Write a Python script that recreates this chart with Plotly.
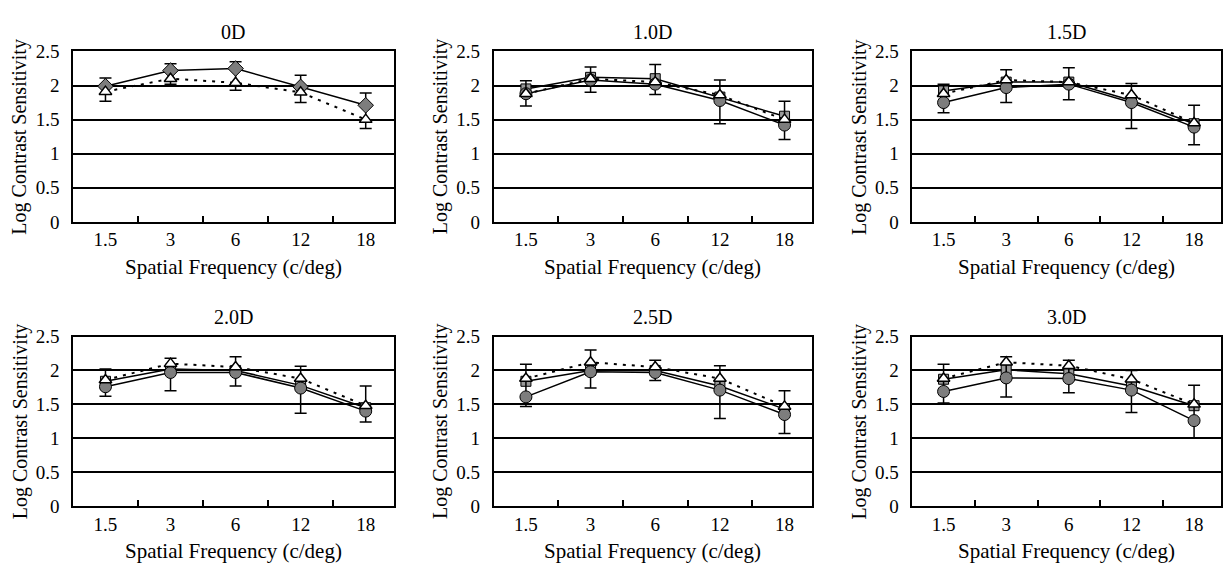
import plotly.graph_objects as go

freq_labels = ["1.5", "3", "6", "12", "18"]
panel_titles = ["0D", "1.0D", "1.5D", "2.0D", "2.5D", "3.0D"]

# filled series (diamond in 0D, circle elsewhere), solid line
filled_0D = [1.99, 2.22, 2.25, 1.98, 1.71]
filled_1_0D = [1.88, 2.08, 2.02, 1.78, 1.42]
filled_1_5D = [1.75, 1.97, 2.02, 1.75, 1.39]
filled_2_0D = [1.76, 1.97, 1.97, 1.74, 1.40]
filled_2_5D = [1.61, 1.98, 1.97, 1.71, 1.35]
filled_3_0D = [1.69, 1.89, 1.88, 1.71, 1.26]

# grey square series, solid line (absent in 0D)
square_1_0D = [1.95, 2.12, 2.10, 1.83, 1.55]
square_1_5D = [1.92, 2.05, 2.05, 1.78, 1.44]
square_2_0D = [1.84, 2.02, 2.00, 1.78, 1.45]
square_2_5D = [1.84, 2.00, 2.00, 1.77, 1.43]
square_3_0D = [1.87, 2.01, 1.95, 1.77, 1.48]

# open triangle series, dotted line
tri_0D = [1.91, 2.10, 2.04, 1.90, 1.50]
tri_1_0D = [1.88, 2.10, 2.05, 1.86, 1.50]
tri_1_5D = [1.88, 2.08, 2.05, 1.86, 1.45]
tri_2_0D = [1.86, 2.10, 2.05, 1.88, 1.48]
tri_2_5D = [1.88, 2.12, 2.05, 1.88, 1.47]
tri_3_0D = [1.88, 2.12, 2.07, 1.87, 1.50]

# error bar caps (top / bottom values)
cap_top_0D = [2.11, 2.32, 2.35, 2.15, 1.89]
cap_bot_0D = [1.77, 2.02, 1.93, 1.75, 1.37]
cap_top_1_0D = [2.07, 2.27, 2.31, 2.08, 1.77]
cap_bot_1_0D = [1.70, 1.90, 1.87, 1.44, 1.21]
cap_top_1_5D = [2.02, 2.23, 2.26, 2.03, 1.71]
cap_bot_1_5D = [1.60, 1.75, 1.79, 1.37, 1.13]
cap_top_2_0D = [2.02, 2.18, 2.20, 2.06, 1.77]
cap_bot_2_0D = [1.62, 1.70, 1.77, 1.37, 1.24]
cap_top_2_5D = [2.09, 2.30, 2.15, 2.07, 1.70]
cap_bot_2_5D = [1.47, 1.74, 1.85, 1.29, 1.07]
cap_top_3_0D = [2.09, 2.20, 2.15, 2.00, 1.78]
cap_bot_3_0D = [1.52, 1.61, 1.67, 1.38, 1.00]

filled_all = [filled_0D, filled_1_0D, filled_1_5D, filled_2_0D, filled_2_5D, filled_3_0D]
square_all = [None, square_1_0D, square_1_5D, square_2_0D, square_2_5D, square_3_0D]
tri_all = [tri_0D, tri_1_0D, tri_1_5D, tri_2_0D, tri_2_5D, tri_3_0D]
top_all = [cap_top_0D, cap_top_1_0D, cap_top_1_5D, cap_top_2_0D, cap_top_2_5D, cap_top_3_0D]
bot_all = [cap_bot_0D, cap_bot_1_0D, cap_bot_1_5D, cap_bot_2_0D, cap_bot_2_5D, cap_bot_3_0D]

W, H = 1223, 571
col_px = [(73, 394), (494, 813), (913, 1222)]
row_px = [(43, 220), (339, 515)]
FONT = "Liberation Serif"

fig = go.Figure()
layout = dict(
    width=W, height=H, margin=dict(l=0, r=0, t=0, b=0),
    paper_bgcolor="white", plot_bgcolor="white", showlegend=False,
    font=dict(family=FONT, size=19, color="black"),
)
annotations = []

for i in range(6):
    r, c = divmod(i, 3)
    xs = "" if i == 0 else str(i + 1)
    xa, ya = "x" + xs, "y" + xs
    x0, x1 = col_px[c]
    yt, yb = row_px[r]
    layout["xaxis" + xs] = dict(
        domain=[x0 / W, x1 / W], anchor=ya, type="category",
        categoryorder="array", categoryarray=freq_labels,
        range=[-0.5, 4.43], showline=True, linecolor="black", linewidth=1.5,
        mirror=True, ticks="inside", tickson="boundaries", ticklen=6,
        tickcolor="black", tickwidth=1.5, showgrid=False, zeroline=False,
        tickfont=dict(family=FONT, size=19), fixedrange=True,
    )
    layout["yaxis" + xs] = dict(
        domain=[1 - yb / H, 1 - yt / H], anchor=xa, range=[0, 2.5],
        tickmode="array", tickvals=[0, 0.5, 1, 1.5, 2, 2.5],
        ticktext=["0", "0.5", "1", "1.5", "2", "2.5"],
        showgrid=True, gridcolor="black", gridwidth=1.5,
        showline=True, linecolor="black", linewidth=1.5, mirror=True,
        ticks="", ticklabelstandoff=8, zeroline=False,
        tickfont=dict(family=FONT, size=19), fixedrange=True,
    )
    f = filled_all[i]
    up = [t - v for t, v in zip(top_all[i], f)]
    dn = [v - b for v, b in zip(f, bot_all[i])]
    if square_all[i] is not None:
        fig.add_trace(go.Scatter(
            x=freq_labels, y=square_all[i], xaxis=xa, yaxis=ya, mode="lines+markers",
            line=dict(color="black", width=1.5),
            marker=dict(symbol="square", size=10, color="#9a9a9a",
                        line=dict(color="black", width=1)),
        ))
    fig.add_trace(go.Scatter(
        x=freq_labels, y=f, xaxis=xa, yaxis=ya, mode="lines+markers",
        line=dict(color="black", width=1.5),
        marker=dict(symbol="diamond" if i == 0 else "circle", size=12,
                    color="#7d7d7d", line=dict(color="black", width=1)),
        error_y=dict(type="data", symmetric=False, array=up, arrayminus=dn,
                     color="black", thickness=1.5, width=6),
    ))
    fig.add_trace(go.Scatter(
        x=freq_labels, y=tri_all[i], xaxis=xa, yaxis=ya, mode="lines+markers",
        line=dict(color="black", width=2, dash="3px,6px"),
        marker=dict(symbol="triangle-up", size=11, color="white",
                    line=dict(color="black", width=1.5)),
    ))
    xc = (x0 + x1) / 2 / W
    annotations.append(dict(text=panel_titles[i], x=xc, y=1 - (yt - 20) / H,
                            xref="paper", yref="paper", showarrow=False,
                            xanchor="center", yanchor="middle",
                            font=dict(family=FONT, size=20)))
    annotations.append(dict(text="Spatial Frequency (c/deg)", x=xc, y=1 - (yb + 47) / H,
                            xref="paper", yref="paper", showarrow=False,
                            xanchor="center", yanchor="middle",
                            font=dict(family=FONT, size=21)))
    annotations.append(dict(text="Log Contrast Sensitivity", x=(x0 - 53) / W,
                            y=1 - (yt + yb) / 2 / H, xref="paper", yref="paper",
                            showarrow=False, textangle=-90,
                            xanchor="center", yanchor="middle",
                            font=dict(family=FONT, size=20)))

layout["annotations"] = annotations
fig.update_layout(**layout)
fig.write_html("out.html")
